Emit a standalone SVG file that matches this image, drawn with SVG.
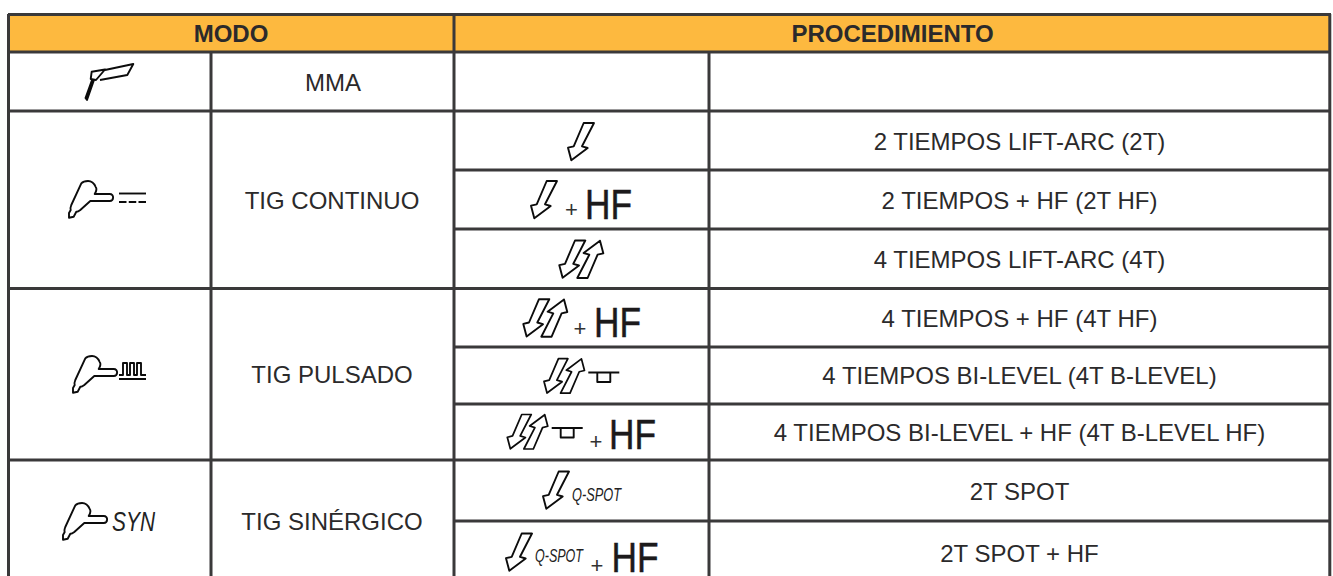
<svg xmlns="http://www.w3.org/2000/svg" width="1333" height="576" viewBox="0 0 1333 576">
<style>
text{font-family:"Liberation Sans",Arial,sans-serif;fill:#2b2a2b}
.t{font-size:24px;text-anchor:middle}
.h{font-size:24px;font-weight:700;text-anchor:middle}
.hf{font-size:43px;fill:#1c1a1b;stroke:#1c1a1b;stroke-width:.5}
.p{font-size:22px;fill:#333}
.s{font-style:italic;fill:#222}
.g{fill:none;stroke:#3a393a;stroke-width:3}
.i{fill:none;stroke:#0c0c0c;stroke-width:1.9;stroke-linejoin:round}
</style>
<defs>
<path id="dn" class="i" d="M15.700 0L5.700 23.300L0 24.700L3.300 37.300L19.700 25L14 23.300L26 0Z"/>
<g id="dbl"><use href="#dn"/><use href="#dn" transform="translate(44 37.5) rotate(180)"/></g>
<path id="torch" class="i" d="M25.700 13C27.500 10 27.500 7 26.700 6C25 2 22 0 19 0C16 0 13.500 1 12.300 2.300L2.300 24C1.500 26 1.300 28 1.700 29L0 32L0 36.700L4.700 35.700L7.300 30.700C9 31 10 30 11.300 29L21.300 20H40.700C45 20 45.500 13 40.700 13Z"/>
<path id="bi" class="i" d="M0 0H31M9 0V9.500H22V0"/>
</defs>
<g id="header">
<rect x="9" y="14" width="1320" height="38" fill="#fdb93f"/>
<text class="h" x="231" y="42">MODO</text>
<text class="h" x="892.500" y="42">PROCEDIMIENTO</text>
</g>
<g id="grid" class="g">
<path d="M8.500 14V576M1329.800 14V576M454 14V576M211 52V576M709 52V576"/>
<path d="M8 14.500H1331M8 52H1331M8 111H1331M454 170H1331M454 229H1331M8 288.500H1331M454 347H1331M454 404H1331M8 460H1331M454 521H1331"/>
</g>
<g id="mma">
<path class="i" d="M105 70L133.300 64L127.300 75L100 80M91.700 71.700L105 69.500L96 80L90.700 79Z"/>
<path class="i" style="fill:#0c0c0c" d="M92 80L85.500 98L87 100L94 80Z"/>
<text class="t" x="333" y="91">MMA</text>
</g>
<g id="tig-continuo">
<use href="#torch" x="69" y="181"/>
<path class="i" d="M119 193.500H146"/>
<path class="i" stroke-dasharray="7.500 2.250" d="M119 202H146"/>
<text class="t" x="332" y="209">TIG CONTINUO</text>
</g>
<g id="tig-pulsado">
<use href="#torch" x="73" y="356"/>
<path class="i" d="M119 379H146M119 375H123V363H127V375H130V363H134V375H137V363H141V375H146"/>
<text class="t" x="332" y="383">TIG PULSADO</text>
</g>
<g id="tig-sinergico">
<use href="#torch" x="63" y="503"/>
<text class="s" x="112" y="531" style="font-size:27px" textLength="43" lengthAdjust="spacingAndGlyphs">SYN</text>
<text class="t" x="332" y="530">TIG SINÉRGICO</text>
</g>
<g id="p1"><use href="#dn" x="568" y="123"/><text class="t" x="1019.500" y="150">2 TIEMPOS LIFT-ARC (2T)</text></g>
<g id="p2"><use href="#dn" x="531" y="181"/><text class="p" x="565" y="217">+</text><text class="hf" x="585" y="219" textLength="47" lengthAdjust="spacingAndGlyphs">HF</text><text class="t" x="1019.500" y="209">2 TIEMPOS + HF (2T HF)</text></g>
<g id="p3"><use href="#dbl" x="559.300" y="240.500"/><text class="t" x="1019.500" y="268">4 TIEMPOS LIFT-ARC (4T)</text></g>
<g id="p4"><use href="#dbl" x="523.300" y="299.200"/><text class="p" x="573.500" y="336">+</text><text class="hf" x="594" y="337" textLength="47" lengthAdjust="spacingAndGlyphs">HF</text><text class="t" x="1019.500" y="327">4 TIEMPOS + HF (4T HF)</text></g>
<g id="p5"><use href="#dbl" transform="translate(544 358.700) scale(.92)"/><use href="#bi" x="588.300" y="372.500"/><text class="t" x="1019.500" y="384">4 TIEMPOS BI-LEVEL (4T B-LEVEL)</text></g>
<g id="p6"><use href="#dbl" transform="translate(507.300 414.500) scale(.92)"/><use href="#bi" x="551.700" y="428"/><text class="p" x="589.500" y="449">+</text><text class="hf" x="609" y="449" textLength="47" lengthAdjust="spacingAndGlyphs">HF</text><text class="t" x="1019.500" y="441">4 TIEMPOS BI-LEVEL + HF (4T B-LEVEL HF)</text></g>
<g id="p7"><use href="#dn" x="543" y="471.500"/><text class="s" x="572" y="501" style="font-size:18px" textLength="49" lengthAdjust="spacingAndGlyphs">Q-SPOT</text><text class="t" x="1019.500" y="500">2T SPOT</text></g>
<g id="p8"><use href="#dn" x="506" y="533.500"/><text class="s" x="535" y="562" style="font-size:18px" textLength="48" lengthAdjust="spacingAndGlyphs">Q-SPOT</text><text class="p" x="590.500" y="573">+</text><text class="hf" x="611.500" y="572" textLength="47" lengthAdjust="spacingAndGlyphs">HF</text><text class="t" x="1019.500" y="562">2T SPOT + HF</text></g>
</svg>
